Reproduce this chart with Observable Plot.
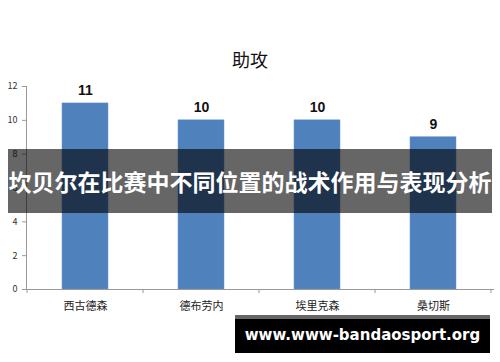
<!DOCTYPE html>
<html><head><meta charset="utf-8">
<script src="https://cdn.jsdelivr.net/npm/d3@7"></script>
<script src="https://cdn.jsdelivr.net/npm/@observablehq/plot@0.6"></script>
<style>
html,body{margin:0;padding:0;background:#fff;}
#wrap{position:relative;width:500px;height:362px;overflow:hidden;}
#title{position:absolute;left:0;top:46px;width:500px;text-align:center;font-family:"Noto Sans CJK SC",sans-serif;font-size:18px;color:#111;line-height:26px;}
#banner{position:absolute;left:8px;top:149px;width:484px;height:64px;background:rgba(0,0,0,0.6);color:#fff;font-family:"Noto Sans CJK SC",sans-serif;font-weight:bold;font-size:23px;line-height:64px;text-align:center;white-space:nowrap;letter-spacing:0px;}
#wm{position:absolute;left:235px;top:315px;width:255px;height:38px;background:#000;border-top:4px solid #666;box-sizing:border-box;color:#fff;font-family:"DejaVu Sans",sans-serif;font-weight:bold;font-size:15px;line-height:32px;text-align:center;white-space:nowrap;}
</style></head>
<body><div id="wrap"><div id="chart"></div><div id="title"></div><div id="banner"></div><div id="wm"></div></div>
<script>
const title = "助攻";
const bannerText = "坎贝尔在比赛中不同位置的战术作用与表现分析";
const watermark = "www.www-bandaosport.org";
const players = ["西古德森", "德布劳内", "埃里克森", "桑切斯"];
const assists = [11, 10, 10, 9];
const yTicks = [0, 2, 4, 6, 8, 10, 12];

const data = players.map((p, i) => ({player: p, value: assists[i]}));

function boundaryTicks(index, scales, values, dimensions) {
  const x = scales.x;
  let bw = typeof x.bandwidth === "function" ? x.bandwidth() : x.bandwidth;
  let step = typeof x.step === "function" ? x.step() : x.step;
  const g = d3.create("svg:g").attr("stroke", "#999").attr("stroke-width", 1);
  const y0 = dimensions.height - dimensions.marginBottom;
  const xs = players.map(p => x(p) + bw / 2 - step / 2);
  xs.push(x(players[players.length - 1]) + bw / 2 + step / 2);
  for (const xv of xs) {
    g.append("line").attr("x1", xv).attr("x2", xv).attr("y1", y0).attr("y2", y0 + 4);
  }
  return g.node();
}

const chart = Plot.plot({
  width: 500,
  height: 362,
  marginTop: 86,
  marginBottom: 73,
  marginLeft: 26,
  marginRight: 7,
  style: {fontFamily: "'Noto Sans CJK SC', sans-serif", background: "#fff"},
  x: {domain: players, paddingInner: 0.6, paddingOuter: 0.3, align: 0.5, label: null},
  y: {domain: [0, 12], label: null},
  marks: [
    Plot.barY(data, {x: "player", y: "value", fill: "#4f81bd", stroke: "#6a96cc", strokeWidth: 0.5}),
    Plot.text(data, {x: "player", y: "value", text: d => String(d.value), dy: -13, fontSize: 14, fontWeight: "bold", fill: "#111", fontFamily: "'Liberation Sans', sans-serif"}),
    Plot.axisY({ticks: yTicks, tickSize: 4, tickPadding: 5, fontSize: 9, stroke: "#999", color: "#333", label: null}),
    Plot.axisX({tickSize: 0, tickPadding: 13, fontSize: 11, color: "#222", label: null}),
    Plot.frame({anchor: "left", stroke: "#999"}),
    Plot.frame({anchor: "bottom", stroke: "#999"}),
    boundaryTicks
  ]
});
document.getElementById("chart").appendChild(chart);
document.getElementById("title").textContent = title;
document.getElementById("banner").textContent = bannerText;
document.getElementById("wm").textContent = watermark;
</script></body></html>
